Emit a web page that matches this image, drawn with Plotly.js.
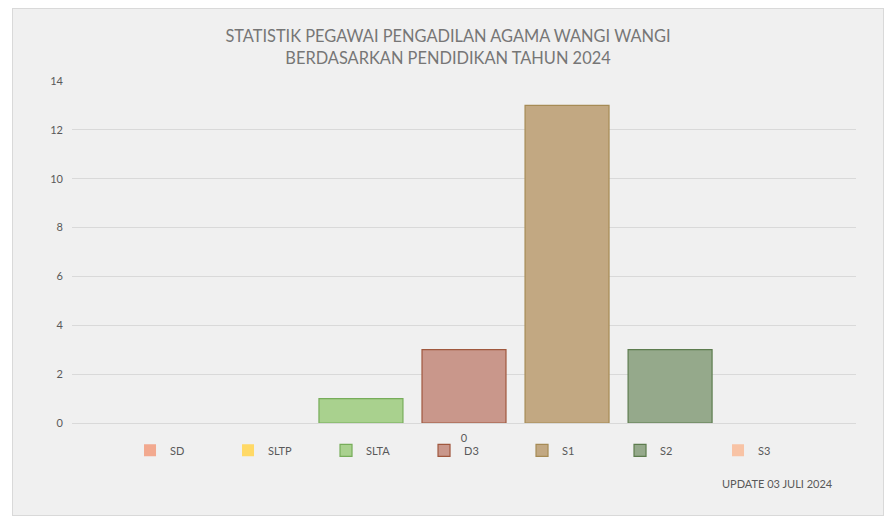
<!DOCTYPE html>
<html>
<head>
<meta charset="utf-8">
<script src="https://cdn.plot.ly/plotly-3.0.1.min.js"></script>
<style>
  body { margin: 0; background: #ffffff; }
  #chart {
    position: absolute; left: 12px; top: 8px;
    width: 872px; height: 508px;
    box-sizing: border-box;
    border: 1px solid #d9d9d9;
    background: #f0f0f0;
  }
</style>
</head>
<body>
<div id="chart"></div>
<script>
// data
let category = ['0'];
let levels = ['SD', 'SLTP', 'SLTA', 'D3', 'S1', 'S2', 'S3'];
let counts = [0, 0, 1, 3, 13, 3, 0];
let fills = ['#f2a98f', '#ffd966', '#a9d18e', '#c9978b', '#c2a882', '#95a98b', '#f8c3a5'];
let borders = ['#e0805f', '#e6b93a', '#77ad5a', '#a0583e', '#a68b55', '#5d7c4e', '#eaa07c'];

let traces = levels.map((name, i) => ({
    x: category,
    y: [counts[i]],
    name: name,
    type: 'bar',
    marker: {color: fills[i], line: {color: borders[i], width: counts[i] > 0 ? 1.2 : 0}},
    hoverinfo: 'name+y'
}));

let labelFont = {family: 'Lato, "Open Sans", sans-serif', size: 11, color: '#595959'};

let layout = {
    width: 870, height: 506,
    paper_bgcolor: '#f0f0f0',
    plot_bgcolor: '#f0f0f0',
    margin: {l: 59, r: 27, t: 72, b: 92},
    barmode: 'group',
    bargap: 0.08,
    bargroupgap: 0.185,
    title: {
        text: 'STATISTIK PEGAWAI PENGADILAN AGAMA WANGI WANGI<br>BERDASARKAN PENDIDIKAN TAHUN 2024',
        font: {family: 'Lato, "Open Sans", sans-serif', size: 16.4, color: '#767676'},
        x: 0.5, xanchor: 'center', y: 0.934, yanchor: 'middle'
    },
    xaxis: {
        type: 'category',
        range: [-0.5, 0.5],
        showgrid: false, showline: false, zeroline: false,
        ticks: '', ticklabelstandoff: 7, tickfont: labelFont
    },
    yaxis: {
        range: [0, 14], dtick: 2,
        showgrid: true, gridcolor: '#d9d9d9', gridwidth: 1,
        zeroline: true, zerolinecolor: '#d9d9d9', zerolinewidth: 1,
        showline: false, ticks: '', ticklabelstandoff: 8,
        tickfont: labelFont
    },
    showlegend: true,
    legend: {
        orientation: 'h',
        x: 0.074, xanchor: 'left',
        y: -0.08, yanchor: 'middle',
        entrywidth: 53, entrywidthmode: 'pixels',
        itemwidth: 30,
        font: labelFont,
        bgcolor: 'rgba(0,0,0,0)'
    },
    annotations: [{
        text: 'UPDATE 03 JULI 2024',
        xref: 'paper', yref: 'paper',
        x: 0.973, xanchor: 'right',
        y: -0.178, yanchor: 'middle',
        showarrow: false,
        font: labelFont
    }]
};

Plotly.newPlot('chart', traces, layout, {displayModeBar: false});
</script>
</body>
</html>
